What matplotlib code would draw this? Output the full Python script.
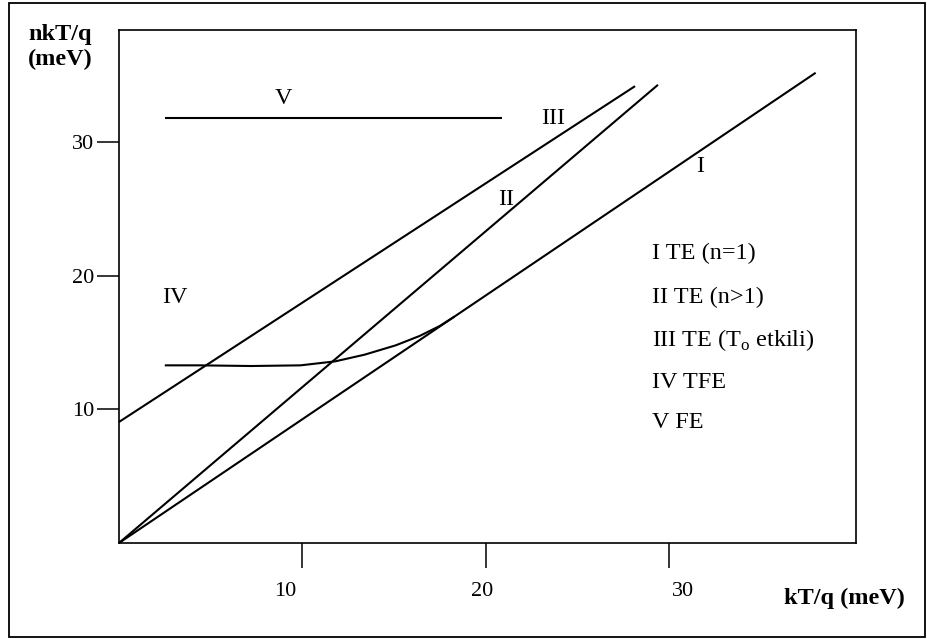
import matplotlib.pyplot as plt
from matplotlib.patches import Rectangle
from matplotlib.transforms import ScaledTranslation

plt.rcParams['font.family'] = ['Liberation Serif', 'DejaVu Serif']
plt.rcParams['mathtext.fontset'] = 'custom'
plt.rcParams['mathtext.rm'] = 'Liberation Serif'

# regime lines (kT/q, nkT/q) in meV
line_i_x = [0, 38.0]
line_i_y = [0, 35.2]
line_ii_x = [0, 29.4]
line_ii_y = [0, 34.3]
line_iii_x = [0, 28.15]
line_iii_y = [9.06, 34.2]
line_v_x = [2.5, 20.9]
line_v_y = [31.8, 31.8]
curve_iv_x = [2.5, 4.4, 7.2, 9.9, 11.8, 13.4, 15.1, 16.4, 17.5, 18.3]
curve_iv_y = [13.3, 13.3, 13.25, 13.3, 13.6, 14.1, 14.8, 15.5, 16.25, 16.95]

# roman labels next to the curves
region_names = ['I', 'II', 'III', 'IV', 'V']
region_x = [31.7, 21.1, 23.7, 3.05, 8.95]
region_y = [28.2, 25.7, 31.8, 18.35, 33.3]

# key on the right
key_texts = ['I TE (n=1)', 'II TE (n>1)', r'III TE (T$_{\rm o}$ etkili)', 'IV TFE', 'V FE']
key_y = [21.7, 18.4, 15.2, 12.05, 9.0]
key_x = 29.1

xticks = [10, 20, 30]
yticks = [10, 20, 30]

fig = plt.figure(figsize=(9.28, 6.39), dpi=100)
ax = fig.add_axes([0.1282, 0.1502, 0.7942, 0.8028])

lw = 1.5
for xs, ys in [(line_i_x, line_i_y), (line_ii_x, line_ii_y), (line_iii_x, line_iii_y),
               (line_v_x, line_v_y), (curve_iv_x, curve_iv_y)]:
    ax.plot(xs, ys, color='black', lw=lw, solid_capstyle='butt', clip_on=False)

for name, x, y in zip(region_names, region_x, region_y):
    ax.text(x, y, name, fontsize=17.5, ha='center', va='center')

for txt, y in zip(key_texts, key_y):
    ax.text(key_x, y, txt, fontsize=17.5, ha='left', va='center')

ax.set_xlim(0, 40.2)
ax.set_ylim(0, 38.4)
ax.set_xticks(xticks)
ax.set_yticks(yticks)
ax.tick_params(axis='x', direction='out', length=18, width=1.1, pad=10, labelsize=16)
ax.tick_params(axis='y', direction='out', length=16, width=1.1, pad=2, labelsize=16)
for sp in ax.spines.values():
    sp.set_linewidth(1.2)

# the scanned sketch has its x tick numbers slightly off the tick marks
for lab, dx in zip(ax.get_xticklabels(), [-17, -4, 14]):
    lab.set_transform(lab.get_transform() + ScaledTranslation(dx / 100, 0, fig.dpi_scale_trans))

fig.text(28 / 928, 1 - 47 / 639, 'nkT/q\n(meV)', fontsize=17.5, fontweight='bold',
         ha='left', va='center', linespacing=1.2)
fig.text(905 / 928, 1 - 598 / 639, 'kT/q (meV)', fontsize=17.5, fontweight='bold',
         ha='right', va='center')

fig.patches.append(Rectangle((9 / 928, 2 / 639), 916 / 928, 634 / 639, transform=fig.transFigure,
                             fill=False, edgecolor='black', lw=1.3))

fig.savefig('out.png', dpi=100)
